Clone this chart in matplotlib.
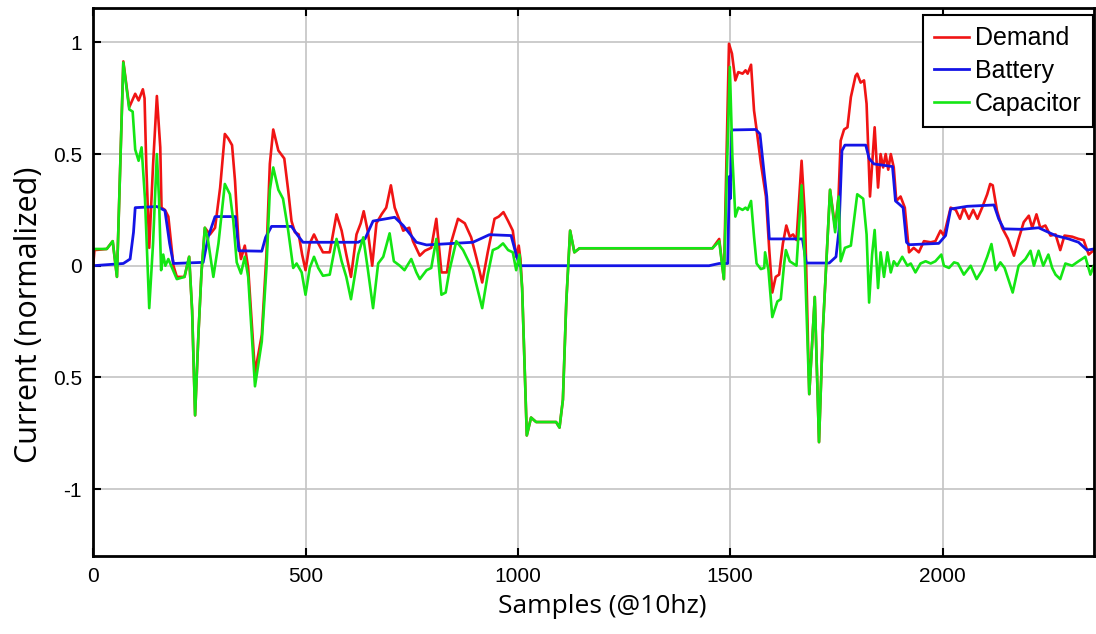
import numpy as np
import matplotlib
matplotlib.use("Agg")
import matplotlib.pyplot as plt

# ---- data (samples @10hz, normalized current) ----
demand_x = [0, 3, 32, 46, 56, 71, 85, 99, 107, 117, 121, 125, 132, 141, 150, 158, 161, 169, 177,
            189, 197, 215, 226, 233, 240, 248, 255, 263, 275, 287, 299, 310, 318, 327, 334, 342, 348,
            357, 365, 381, 397, 408, 416, 424, 436, 450, 459, 467, 475, 484, 492, 500, 510, 520, 530,
            541, 557, 573, 585, 596, 607, 620, 630, 637, 647, 657, 667, 679, 690, 701, 710, 720, 730,
            744, 753, 769, 781, 796, 808, 820, 833, 843, 859, 875, 890, 903, 916, 929, 945, 955, 966,
            977, 988, 996, 1002, 1006, 1010, 1021, 1031, 1043, 1090, 1098, 1106, 1114, 1123, 1133,
            1145, 1458, 1474, 1485, 1497, 1504, 1512, 1519, 1529, 1536, 1541, 1549, 1556, 1562, 1572,
            1584, 1592, 1599, 1607, 1615, 1624, 1632, 1640, 1648, 1656, 1668, 1676, 1686, 1699, 1709,
            1718, 1735, 1747, 1755, 1760, 1768, 1776, 1784, 1795, 1799, 1807, 1815, 1821, 1829, 1840,
            1848, 1854, 1860, 1866, 1872, 1878, 1885, 1891, 1901, 1911, 1921, 1932, 1944, 1956, 1972,
            1983, 1995, 2003, 2019, 2031, 2041, 2050, 2062, 2072, 2082, 2093, 2105, 2112, 2118, 2128,
            2140, 2154, 2168, 2179, 2191, 2203, 2211, 2221, 2230, 2242, 2254, 2266, 2277, 2287, 2305,
            2320, 2332, 2344, 2356]
demand_y = [0.0, 0.07, 0.075, 0.11, -0.05, 0.915, 0.71, 0.77, 0.74, 0.79, 0.75, 0.456, 0.08, 0.45,
            0.76, 0.53, 0.26, 0.25, 0.22, 0.0, -0.05, -0.05, 0.04, -0.2, -0.67, -0.3, -0.03, 0.17,
            0.14, 0.17, 0.35, 0.59, 0.57, 0.54, 0.38, 0.11, 0.03, 0.09, -0.01, -0.48, -0.31, 0.05,
            0.456, 0.61, 0.516, 0.48, 0.34, 0.20, 0.15, 0.14, 0.05, -0.02, 0.10, 0.14, 0.10, 0.06,
            0.06, 0.23, 0.157, 0.05, -0.05, 0.14, 0.19, 0.244, 0.15, 0.0, 0.19, 0.23, 0.26, 0.36,
            0.26, 0.21, 0.157, 0.17, 0.11, 0.045, 0.067, 0.08, 0.21, -0.03, -0.03, 0.105, 0.21, 0.19,
            0.127, 0.03, -0.075, 0.06, 0.21, 0.22, 0.24, 0.20, 0.157, 0.04, 0.09, 0.03, -0.1, -0.76,
            -0.68, -0.70, -0.70, -0.725, -0.6, -0.16, 0.157, 0.06, 0.078, 0.078, 0.12, -0.06, 0.994,
            0.95, 0.83, 0.867, 0.86, 0.875, 0.86, 0.90, 0.695, 0.61, 0.46, 0.31, 0.067, -0.12, -0.05,
            -0.04, 0.10, 0.18, 0.13, 0.14, 0.115, 0.47, 0.217, -0.575, -0.14, -0.79, -0.29, 0.34,
            0.17, 0.31, 0.56, 0.61, 0.62, 0.755, 0.85, 0.86, 0.82, 0.83, 0.725, 0.31, 0.62, 0.35,
            0.50, 0.44, 0.50, 0.43, 0.50, 0.44, 0.29, 0.31, 0.26, 0.06, 0.08, 0.06, 0.11, 0.105,
            0.11, 0.157, 0.135, 0.26, 0.25, 0.21, 0.26, 0.21, 0.25, 0.21, 0.26, 0.32, 0.366, 0.36,
            0.247, 0.17, 0.12, 0.045, 0.12, 0.195, 0.224, 0.17, 0.23, 0.17, 0.18, 0.135, 0.14, 0.07,
            0.135, 0.13, 0.12, 0.115, 0.05, 0.07]

battery_x = [0, 71, 87, 95, 99, 150, 169, 180, 189, 259, 271, 287, 335, 343, 397, 406, 420, 467,
             480, 494, 624, 640, 659, 710, 730, 761, 785, 894, 933, 984, 996, 1004, 1450, 1474,
             1494, 1498, 1500, 1503, 1505, 1560, 1570, 1580, 1586, 1592, 1670, 1679, 1733, 1749,
             1756, 1763, 1770, 1819, 1827, 1838, 1882, 1885, 1889, 1897, 1907, 1915, 1921, 1991,
             2007, 2019, 2058, 2121, 2132, 2144, 2187, 2226, 2266, 2297, 2320, 2340, 2356]
battery_y = [0.0, 0.01, 0.03, 0.15, 0.26, 0.265, 0.247, 0.1, 0.01, 0.015, 0.13, 0.22, 0.22, 0.067,
             0.065, 0.127, 0.176, 0.176, 0.14, 0.105, 0.105, 0.12, 0.20, 0.217, 0.18, 0.105, 0.093,
             0.105, 0.139, 0.135, 0.05, 0.0, 0.0, 0.01, 0.01, 0.40, 0.30, 0.60, 0.608, 0.61, 0.59,
             0.41, 0.31, 0.12, 0.12, 0.012, 0.012, 0.04, 0.16, 0.515, 0.54, 0.54, 0.48, 0.456,
             0.444, 0.38, 0.29, 0.277, 0.26, 0.105, 0.094, 0.10, 0.135, 0.254, 0.266, 0.272, 0.21,
             0.165, 0.163, 0.17, 0.135, 0.12, 0.105, 0.07, 0.075]

capacitor_x = [1, 32, 46, 56, 71, 85, 93, 99, 107, 114, 122, 132, 141, 150, 155, 160, 165, 170, 177,
               197, 215, 226, 233, 240, 248, 255, 263, 270, 283, 295, 310, 322, 330, 338, 348, 357,
               365, 381, 397, 408, 416, 424, 436, 447, 459, 471, 479, 491, 500, 510, 520, 530, 541,
               557, 573, 585, 596, 607, 624, 636, 647, 659, 671, 683, 698, 708, 722, 733, 749, 761,
               769, 785, 796, 808, 820, 830, 839, 855, 871, 894, 916, 929, 941, 953, 965, 977, 988,
               996, 1004, 1010, 1021, 1031, 1043, 1090, 1098, 1106, 1114, 1123, 1133, 1145, 1458,
               1474, 1485, 1499, 1505, 1512, 1519, 1529, 1536, 1541, 1549, 1556, 1562, 1572, 1580,
               1582, 1590, 1599, 1611, 1619, 1627, 1631, 1640, 1656, 1668, 1676, 1686, 1699, 1709,
               1718, 1735, 1747, 1755, 1760, 1770, 1784, 1799, 1813, 1821, 1827, 1834, 1840, 1848,
               1854, 1862, 1870, 1878, 1885, 1893, 1905, 1917, 1925, 1936, 1948, 1960, 1972, 1983,
               1997, 2003, 2015, 2027, 2036, 2050, 2066, 2080, 2093, 2105, 2115, 2125, 2136, 2146,
               2165, 2179, 2195, 2207, 2215, 2226, 2237, 2249, 2258, 2266, 2277, 2289, 2305, 2320,
               2336, 2348, 2356]
capacitor_y = [0.075, 0.075, 0.11, -0.05, 0.91, 0.70, 0.69, 0.52, 0.47, 0.53, 0.3, -0.19, 0.1, 0.50,
               0.3, -0.02, 0.05, 0.0, 0.03, -0.06, -0.05, 0.04, -0.2, -0.67, -0.3, -0.03, 0.17,
               0.12, -0.05, 0.10, 0.366, 0.32, 0.20, 0.015, -0.035, 0.04, -0.05, -0.54, -0.34,
               -0.01, 0.34, 0.44, 0.34, 0.30, 0.16, -0.01, 0.01, -0.03, -0.13, -0.01, 0.04, -0.01,
               -0.045, -0.04, 0.12, 0.02, -0.05, -0.15, 0.05, 0.127, -0.02, -0.19, 0.01, 0.04,
               0.145, 0.02, 0.0, -0.02, 0.03, -0.03, -0.06, -0.02, -0.01, 0.12, -0.13, -0.12, -0.02,
               0.11, 0.07, -0.02, -0.19, -0.04, 0.07, 0.08, 0.10, 0.07, 0.06, -0.02, 0.05, -0.1,
               -0.76, -0.68, -0.70, -0.70, -0.725, -0.6, -0.16, 0.157, 0.06, 0.078, 0.078, 0.11,
               -0.06, 0.89, 0.49, 0.22, 0.26, 0.25, 0.26, 0.25, 0.29, 0.13, 0.01, -0.015, -0.01,
               0.06, -0.02, -0.23, -0.16, -0.15, 0.01, 0.07, 0.02, 0.0, 0.36, 0.0, -0.575, -0.14,
               -0.79, -0.29, 0.34, 0.15, 0.31, 0.02, 0.08, 0.09, 0.32, 0.30, 0.14, -0.165, 0.05,
               0.16, -0.10, 0.06, -0.05, 0.06, -0.03, 0.02, 0.0, 0.04, 0.0, 0.01, -0.03, 0.01, 0.02,
               0.01, 0.02, 0.05, 0.0, -0.01, 0.015, 0.01, -0.04, 0.0, -0.06, -0.02, 0.04, 0.097,
               -0.02, 0.015, -0.01, -0.12, 0.0, 0.03, 0.067, 0.0, 0.067, 0.0, 0.05, -0.01, -0.04,
               -0.06, 0.01, 0.0, 0.02, 0.04, -0.04, 0.0]

ytick_vals = [1, 0.5, 0, -0.5, -1]
ytick_text = ["1", "0.5", "0", "0.5", "-1"]
xtick_vals = [0, 500, 1000, 1500, 2000]

fig = plt.figure(figsize=(10.96, 6.34), dpi=100)
ax = fig.add_axes([0.085, 0.123, 0.913, 0.864])

ax.plot(demand_x, demand_y, color='#f01414', lw=1.9, label='Demand')
ax.plot(battery_x, battery_y, color='#1414e6', lw=2.0, label='Battery')
ax.plot(capacitor_x, capacitor_y, color='#14e614', lw=1.9, label='Capacitor')

ax.set_xlim(0, 2356)
ax.set_ylim(-1.3, 1.153)
ax.set_xticks(xtick_vals)
ax.set_yticks(ytick_vals)
ax.set_yticklabels(ytick_text)
ax.grid(True, color='#c4c4c4', lw=1.2)
ax.set_axisbelow(True)

ax.tick_params(direction='in', length=6, width=1.5, top=True, right=True,
               labelsize=15, pad=8)
for lab in ax.get_xticklabels() + ax.get_yticklabels():
    lab.set_family(['Liberation Sans', 'DejaVu Sans'])
for sp in ax.spines.values():
    sp.set_linewidth(2)

ax.set_xlabel('Samples (@10hz)', fontsize=19, family=['Open Sans', 'DejaVu Sans'])
ax.set_ylabel('Current (normalized)', fontsize=22, family=['Open Sans', 'DejaVu Sans'])
ax.xaxis.set_label_coords(0.509, -0.07)
ax.yaxis.set_label_coords(-0.049, 0.44)

leg = ax.legend(loc='upper right', bbox_to_anchor=(0.999, 0.987), borderaxespad=0,
                fancybox=False, framealpha=1, edgecolor='black',
                prop={'family': 'Liberation Sans', 'size': 18},
                handlelength=1.4, handletextpad=0.25, labelspacing=0.35, borderpad=0.44)
leg.get_frame().set_linewidth(1.5)

fig.savefig('out.png', dpi=100)
